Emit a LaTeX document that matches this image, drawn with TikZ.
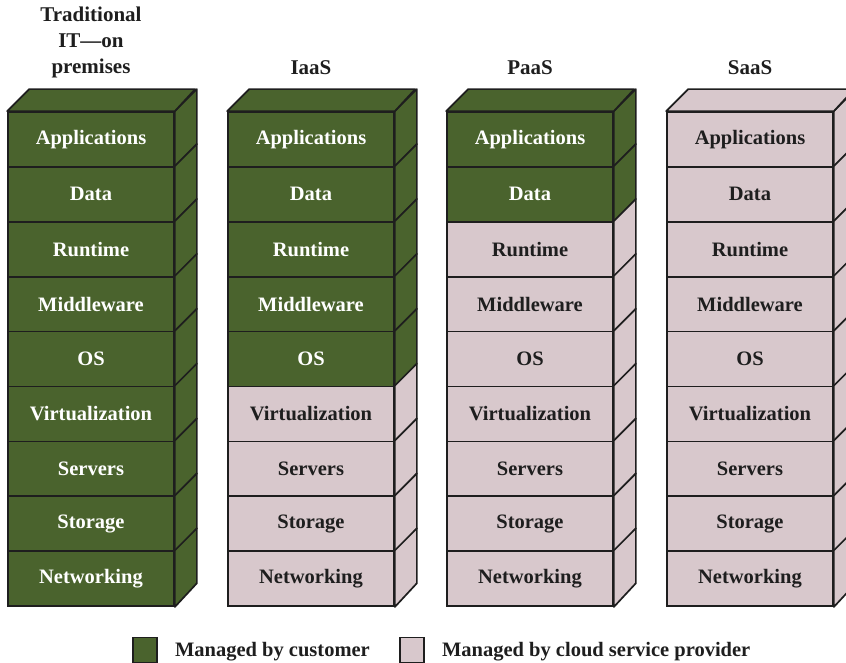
\documentclass[tikz,border=0pt]{standalone}
\usepackage{fontspec}
\setmainfont{Liberation Serif}
\usetikzlibrary{positioning}
\definecolor{custgreen}{RGB}{74,99,45}
\definecolor{provpink}{RGB}{216,200,204}
\definecolor{edge}{RGB}{30,30,30}

\tikzset{
  layer/.style={draw=edge, line width=1.7pt, minimum width=166pt, minimum height=54.9pt,
    inner sep=0pt, font=\bfseries\fontsize{20.5}{22}\selectfont},
  face/.style={draw=edge, line width=1.7pt, line join=round},
  cust/.style={fill=custgreen, text=white},
  prov/.style={fill=provpink, text=edge},
  title/.style={font=\bfseries\fontsize{21}{26}\selectfont, text=edge, align=center},
  legbox/.style={draw=edge, line width=1.7pt, minimum width=24pt, minimum height=25pt, inner sep=0pt},
  legtext/.style={font=\bfseries\fontsize{20.5}{22}\selectfont, text=edge, inner sep=0pt}
}

\begin{document}
\begin{tikzpicture}[x=1pt,y=-1pt]
\useasboundingbox (0,0) rectangle (846,663);

% Column headings
\node[title] (head1) at (91,42) {Traditional\\IT---on\\premises};
\node[title] (head2) at (311,68) {IaaS};
\node[title] (head3) at (530,68) {PaaS};
\node[title] (head4) at (750,68) {SaaS};

% Stacks of layers (\ng = layers managed by customer)
\foreach \s/\x/\ng in {1/8/9, 2/228/5, 3/447/2, 4/667/0} {
  \foreach \lab [count=\i] in {Applications,Data,Runtime,Middleware,OS,Virtualization,Servers,Storage,Networking} {
    \ifnum\i>\ng \tikzset{cur/.style={prov}}\else\tikzset{cur/.style={cust}}\fi
    \node[layer,cur] (s\s-\i) at ({\x+83},{112+54.9*(\i-0.5)}) {\lab};
    % side face
    \draw[face,cur] (s\s-\i.north east) -- ++(22,-22) -- ++(0,54.9) -- (s\s-\i.south east) -- cycle;
    % top face
    \ifnum\i=1
      \draw[face,cur] (s\s-\i.north west) -- ++(22,-22) -- ++(166,0) -- (s\s-\i.north east) -- cycle;
    \fi
  }
}

% Legend
\node[legbox,fill=custgreen] (legcust) at (145,650) {};
\node[legtext,right=17pt of legcust,yshift=-1.5pt] (legcusttext) {Managed by customer};
\node[legbox,fill=provpink] (legprov) at (412,650) {};
\node[legtext,right=17pt of legprov,yshift=-1.5pt] (legprovtext) {Managed by cloud service provider};
\end{tikzpicture}
\end{document}
